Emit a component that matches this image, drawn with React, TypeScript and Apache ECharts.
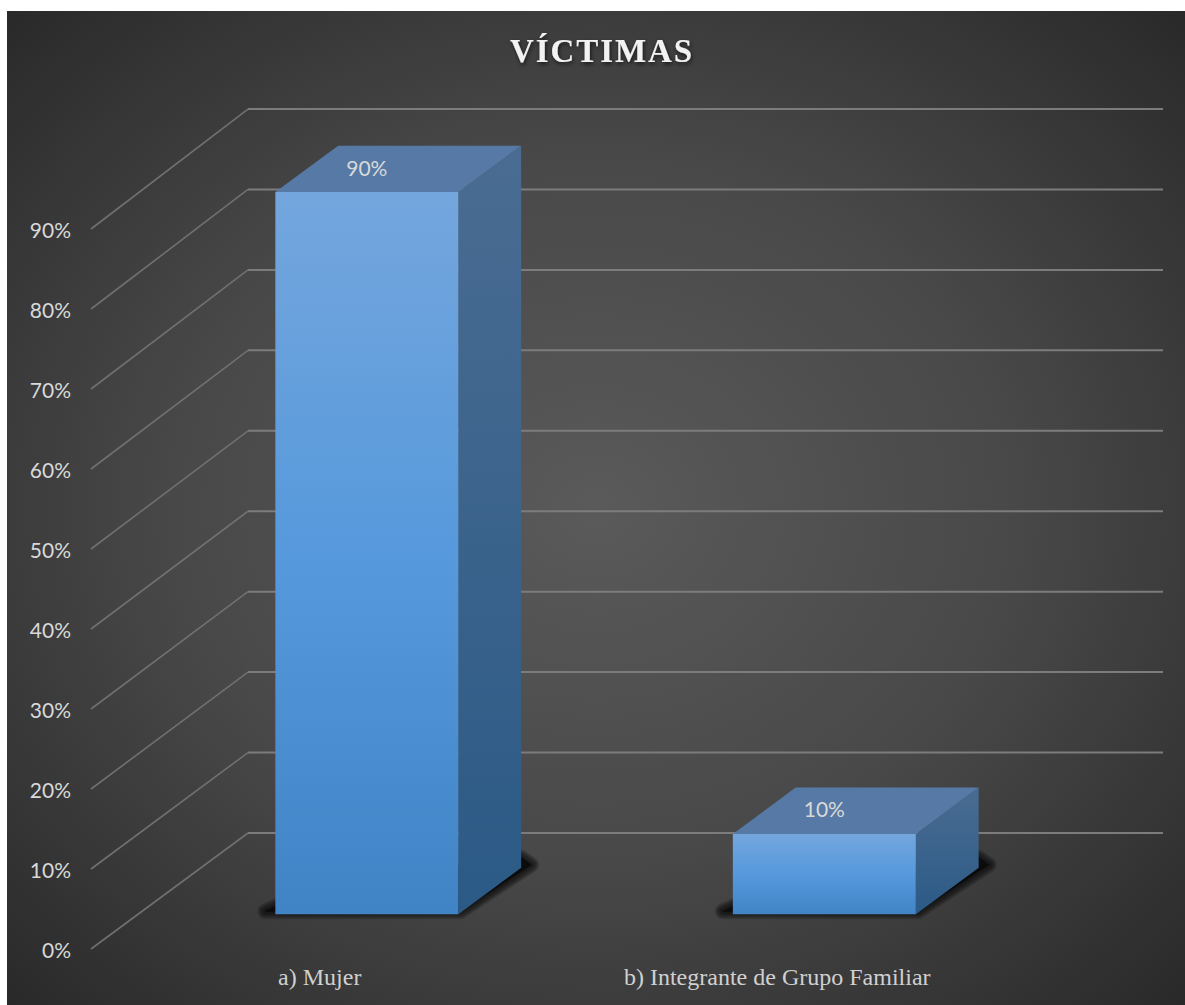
import React, { useEffect, useRef } from "react";
import * as echarts from "echarts";

const categories = ["a) Mujer", "b) Integrante de Grupo Familiar"];
const shares = [90, 10];
const wallTicks = [0, 10, 20, 30, 40, 50, 60, 70, 80, 90];

const WIDTH = 1185;
const HEIGHT = 1005;
// Screen offset of a full step from the front of the floor to the back wall.
const DEPTH_X = 157;
const DEPTH_Y = -116;
// Columns occupy this slice of the floor's depth.
const BAR_FRONT = 0.3;
const BAR_BACK = 0.7;
const BAR_WIDTH_RATIO = 0.4;
// Slight enlargement of heights further into the scene.
const WALL_SCALE = 1.0055;
const BAR_SCALE = 1.003;
// Stroke widths layered to feather the floor shadow's edge.
const SHADOW_FEATHER = [16, 14, 12, 10, 8, 6, 4, 2];

const vGrad = (stops: [number, string][]) =>
  new echarts.graphic.LinearGradient(
    0,
    0,
    0,
    1,
    stops.map(([offset, color]) => ({ offset, color }))
  );

function renderWall(params: any, api: any) {
  const value = api.value(0);
  const [fx, fy] = api.coord([0, value]);
  const [, zeroY] = api.coord([0, 0]);
  const band = api.size([1, 0])[0];
  const left = fx - band / 2;
  const gridRight = params.coordSys.x + params.coordSys.width;
  const backY = zeroY + DEPTH_Y + (fy - zeroY) * WALL_SCALE;
  return {
    type: "group",
    children: [
      {
        type: "line",
        shape: { x1: left, y1: fy, x2: left + DEPTH_X, y2: backY },
        style: { stroke: "#707070", lineWidth: 1.6 },
      },
      {
        type: "line",
        shape: {
          x1: left + DEPTH_X,
          y1: backY,
          x2: gridRight + DEPTH_X,
          y2: backY,
        },
        style: { stroke: "#7c7c7c", lineWidth: 2 },
      },
    ],
  };
}

function renderColumn(_params: any, api: any) {
  const category = api.value(0);
  const value = api.value(1);
  const [cx, baseY] = api.coord([category, 0]);
  const [, topY] = api.coord([category, value]);
  const half = (api.size([1, 0])[0] * BAR_WIDTH_RATIO) / 2;

  const fdx = DEPTH_X * BAR_FRONT;
  const fdy = DEPTH_Y * BAR_FRONT;
  const bdx = DEPTH_X * BAR_BACK;
  const bdy = DEPTH_Y * BAR_BACK;

  const xl = cx - half + fdx;
  const xr = cx + half + fdx;
  const yb = baseY + fdy;
  const yt = yb + (topY - baseY) * BAR_SCALE;
  const sx = bdx - fdx;
  const sy = bdy - fdy;

  const shadowPoints = [
    [xl - 10, yb - 3],
    [xr + 2, yb - 3],
    [xr + sx + 10, yb + sy - 3],
    [xr + sx, yb + sy - 10],
    [xl + 10, yb - 12],
  ];

  return {
    type: "group",
    children: [
      // Floor shadow: faint strokes pile up towards a dark core
      ...SHADOW_FEATHER.map((width) => ({
        type: "polygon",
        shape: { points: shadowPoints },
        style: {
          fill: "rgba(12,12,12,0.25)",
          stroke: "rgba(12,12,12,0.16)",
          lineWidth: width,
          lineJoin: "round",
        },
      })),
      // Right face
      {
        type: "polygon",
        shape: {
          points: [
            [xr, yt],
            [xr + sx, yt + sy],
            [xr + sx, yb + sy],
            [xr, yb],
          ],
        },
        style: {
          fill: vGrad([
            [0, "#4a6c92"],
            [1, "#2b5a86"],
          ]),
        },
      },
      // Top face
      {
        type: "polygon",
        shape: {
          points: [
            [xl, yt],
            [xl + sx, yt + sy],
            [xr + sx, yt + sy],
            [xr, yt],
          ],
        },
        style: { fill: "#567aa5" },
      },
      // Front face
      {
        type: "rect",
        shape: { x: xl, y: yt, width: xr - xl, height: yb - yt },
        style: {
          fill: vGrad([
            [0, "#74a6dd"],
            [0.5, "#5699dc"],
            [1, "#4084c6"],
          ]),
        },
      },
      // Value printed on the top face
      {
        type: "text",
        x: cx + fdx,
        y: yt - 25,
        style: {
          text: `${value}%`,
          fill: "#d9d9d9",
          font: '21px Lato, "Open Sans", sans-serif',
          align: "center",
          verticalAlign: "middle",
        },
      },
    ],
  };
}

export default function App() {
  const ref = useRef<HTMLDivElement>(null);

  useEffect(() => {
    const chart = echarts.init(ref.current!, null, { renderer: "svg" });
    chart.setOption({
      animation: false,
      backgroundColor: "#ffffff",
      title: {
        text: "VÍCTIMAS",
        left: 597,
        top: 29,
        textAlign: "center",
        textStyle: {
          color: "#f2f2f2",
          fontFamily: '"Liberation Serif", serif',
          fontWeight: "bold",
          fontSize: 33,
          textShadowColor: "rgba(0,0,0,0.65)",
          textShadowBlur: 4,
          textShadowOffsetX: 1,
          textShadowOffsetY: 2,
        },
      },
      graphic: [
        {
          type: "rect",
          z: -10,
          silent: true,
          shape: { x: 7, y: 11, width: WIDTH - 7, height: HEIGHT - 11 },
          style: {
            fill: new echarts.graphic.RadialGradient(0.5, 0.5, 0.72, [
              { offset: 0, color: "#5a5a5a" },
              { offset: 0.5, color: "#484848" },
              { offset: 1, color: "#282828" },
            ]),
          },
        },
      ],
      grid: { left: 91, width: 915, top: 229, bottom: 56 },
      xAxis: {
        type: "category",
        data: categories,
        axisLine: { show: false },
        axisTick: { show: false },
        axisLabel: {
          color: "#d0d0d0",
          fontFamily: '"Liberation Serif", serif',
          fontSize: 24,
          margin: 16,
          interval: 0,
        },
      },
      yAxis: {
        type: "value",
        min: 0,
        max: 90,
        interval: 10,
        axisLine: { show: false },
        axisTick: { show: false },
        splitLine: { show: false },
        axisLabel: {
          formatter: "{value}%",
          color: "#d9d9d9",
          fontFamily: 'Lato, "Open Sans", sans-serif',
          fontSize: 21,
          margin: 20,
        },
      },
      series: [
        {
          type: "custom",
          name: "wall",
          z: 1,
          silent: true,
          renderItem: renderWall,
          data: wallTicks.map((t) => [t]),
          encode: { y: 0 },
        },
        {
          type: "custom",
          name: "columns",
          z: 2,
          silent: true,
          renderItem: renderColumn,
          data: shares.map((v, i) => [i, v]),
          encode: { x: 0, y: 1 },
        },
      ],
    });

    // Tracks the title's letters apart; the option has no letter-spacing setting.
    ref.current!.querySelectorAll("text").forEach((node) => {
      if (node.textContent === "VÍCTIMAS") node.style.letterSpacing = "1.9px";
    });

    return () => chart.dispose();
  }, []);

  return (
    <div
      ref={ref}
      style={{
        position: "absolute",
        left: 0,
        top: 0,
        width: WIDTH,
        height: HEIGHT,
      }}
    />
  );
}
